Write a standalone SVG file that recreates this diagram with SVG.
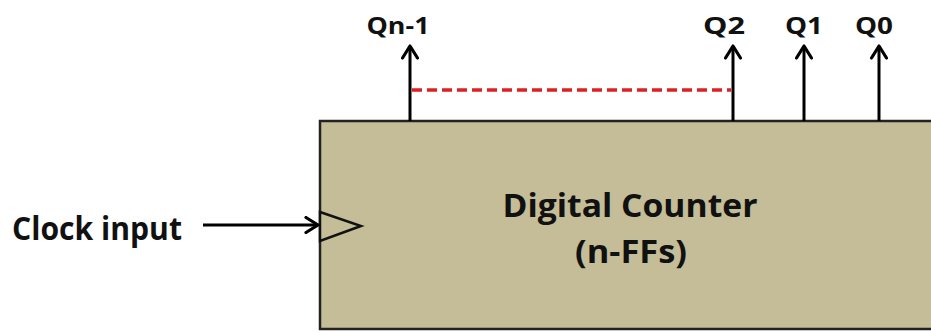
<svg xmlns="http://www.w3.org/2000/svg" width="931" height="333" viewBox="0 0 931 333">
  <defs>
    <marker id="chev" viewBox="0 0 16 18" refX="14" refY="9" markerWidth="16" markerHeight="18" markerUnits="userSpaceOnUse" orient="auto">
      <path d="M2,1.5 L14,9 L2,16.5" fill="none" stroke="#000" stroke-width="3.2" stroke-linecap="round" stroke-linejoin="round"/>
    </marker>
    <style>
      .lbl { font-family: "Open Sans", Lato, "Liberation Sans", sans-serif; font-weight: bold; fill: #111; }
      .wire { stroke: #000; stroke-width: 3; fill: none; marker-end: url(#chev); }
    </style>
  </defs>
  <rect width="931" height="333" fill="#fff"/>

  <!-- counter block -->
  <g id="counter">
    <rect x="320" y="121" width="620" height="208" fill="#C4BD97" stroke="#222" stroke-width="2.5"/>
    <polygon points="320,212 361,226 320,241" fill="#C4BD97" stroke="#111" stroke-width="2.5" stroke-linejoin="miter"/>
    <text class="lbl" x="630" y="217" font-size="33" text-anchor="middle" textLength="255" lengthAdjust="spacingAndGlyphs">Digital Counter</text>
    <text class="lbl" x="631" y="263" font-size="33" text-anchor="middle" textLength="112" lengthAdjust="spacingAndGlyphs">(n-FFs)</text>
  </g>

  <!-- clock input -->
  <g id="clock">
    <text class="lbl" x="12" y="240" font-size="32" textLength="170" lengthAdjust="spacingAndGlyphs">Clock input</text>
  </g>

  <!-- outputs -->
  <g id="out-qn1">
    <text class="lbl" x="398" y="34" font-size="23" text-anchor="middle" textLength="63" lengthAdjust="spacingAndGlyphs">Qn-1</text>
  </g>
  <g id="out-q2">
    <text class="lbl" x="724" y="34" font-size="23" text-anchor="middle" textLength="42" lengthAdjust="spacingAndGlyphs">Q2</text>
  </g>
  <g id="out-q1">
    <text class="lbl" x="804" y="34" font-size="23" text-anchor="middle" textLength="38" lengthAdjust="spacingAndGlyphs">Q1</text>
  </g>
  <g id="out-q0">
    <text class="lbl" x="874" y="34" font-size="23" text-anchor="middle" textLength="38" lengthAdjust="spacingAndGlyphs">Q0</text>
  </g>

  <!-- connectors -->
  <g id="connectors">
    <line class="wire" x1="203" y1="225" x2="318" y2="225"/>
    <line class="wire" x1="410" y1="121" x2="410" y2="46"/>
    <line class="wire" x1="733" y1="121" x2="733" y2="46"/>
    <line class="wire" x1="804" y1="121" x2="804" y2="46"/>
    <line class="wire" x1="879" y1="121" x2="879" y2="46"/>
    <line x1="412" y1="90" x2="731" y2="90" stroke="#E02020" stroke-width="3.5" stroke-dasharray="10,5"/>
  </g>
</svg>
